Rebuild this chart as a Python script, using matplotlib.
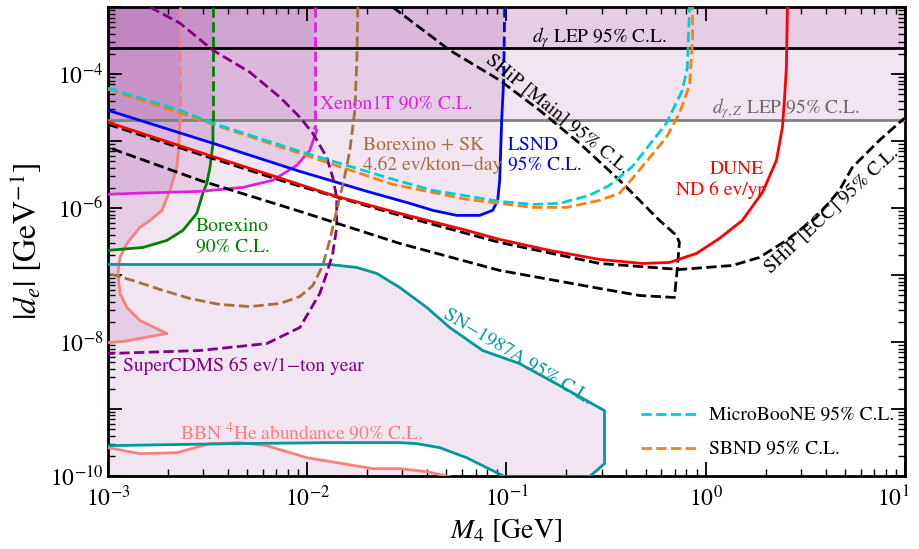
import matplotlib
matplotlib.use('Agg')
import matplotlib.pyplot as plt
import matplotlib.transforms as mtransforms
import numpy as np

plt.rcParams['font.family'] = ['STIXGeneral', 'DejaVu Serif']
plt.rcParams['mathtext.fontset'] = 'stix'

# curves, stored as log10(M4 / GeV) and log10(|d_e| GeV)
bbn_top_lm = [-2.639, -2.639, -2.644, -2.654, -2.689, -2.729, -2.789, -2.840, -2.905,
              -2.940, -2.950, -2.940, -2.905, -2.840, -2.704, -2.925, -3.0]
bbn_top_ld = [-3.0, -4.689, -5.033, -5.392, -5.735, -6.034, -6.184, -6.289, -6.528,
              -6.737, -6.976, -7.275, -7.484, -7.679, -7.873, -7.993, -8.008]
bbn_low_lm = [-3.0, -2.840, -2.654, -2.488, -2.338, -2.203, -2.002, -1.821, -1.671,
              -1.536, -1.400, -1.285]
bbn_low_ld = [-9.577, -9.667, -9.652, -9.517, -9.502, -9.547, -9.727, -9.816, -9.891,
              -9.891, -9.936, -10.01]

borex_lm = [-2.473, -2.473, -2.473, -2.488, -2.504, -2.524, -2.554, -2.624, -2.704, -2.824, -3.0]
borex_ld = [-3.0, -4.689, -5.033, -5.392, -5.631, -5.780, -6.079, -6.333, -6.483, -6.588, -6.632]

xenon_lm = [-1.962, -1.962, -1.952, -1.987, -2.052, -2.173, -2.323, -2.539, -2.875, -3.0]
xenon_ld = [-3.0, -4.809, -4.839, -5.138, -5.362, -5.586, -5.691, -5.751, -5.780, -5.795]

lsnd_lm = [-1.009, -1.014, -1.024, -1.034, -1.044, -1.069, -1.134, -1.250, -1.370, -1.485,
           -1.701, -2.037, -2.473, -3.0]
lsnd_ld = [-3.0, -4.091, -4.689, -5.586, -5.885, -6.034, -6.109, -6.109, -6.034, -5.930,
           -5.750, -5.452, -5.033, -4.540]

sn_lm = [-3.0, -2.288, -1.887, -1.751, -1.651, -1.536, -1.400, -1.285, -1.119, -0.934,
         -0.733, -0.508, -0.508, -0.583, -1.009, -1.069, -1.200, -1.335, -1.450, -1.536,
         -1.872, -2.373, -3.0]
sn_ld = [-6.842, -6.842, -6.842, -6.887, -6.976, -7.185, -7.484, -7.783, -8.127, -8.322,
         -8.650, -9.024, -9.816, -10.01, -10.01, -9.921, -9.727, -9.577, -9.517, -9.502,
         -9.502, -9.517, -9.547]

cdms_lm = [-2.789, -2.639, -2.473, -2.288, -2.137, -2.037, -1.972, -1.902, -1.872, -1.852,
           -1.852, -1.872, -1.902, -1.937, -2.037, -2.203, -2.539, -3.0]
cdms_ld = [-3.0, -3.239, -3.643, -3.972, -4.345, -4.644, -4.883, -5.242, -5.541, -5.840,
           -6.289, -6.677, -6.976, -7.275, -7.783, -8.023, -8.127, -8.172]

bsk_lm = [-1.746, -1.751, -1.761, -1.786, -1.816, -1.852, -1.887, -1.922, -1.972, -2.037,
          -2.137, -2.288, -2.438, -2.589, -2.739, -2.875, -3.0]
bsk_ld = [-3.0, -3.792, -4.540, -5.138, -5.586, -6.034, -6.483, -6.857, -7.156, -7.320,
          -7.425, -7.470, -7.440, -7.350, -7.215, -7.081, -6.976]

uboone_lm = [-3.0, -2.639, -2.473, -2.037, -1.586, -1.370, -1.034, -0.869, -0.733, -0.583,
             -0.483, -0.367, -0.197, -0.117, -0.092, -0.081]
uboone_ld = [-4.211, -4.540, -4.734, -5.153, -5.556, -5.736, -5.900, -5.945, -5.930, -5.810,
             -5.661, -5.377, -4.734, -4.241, -3.897, -3.0]

sbnd_lm = [-3.0, -2.473, -2.037, -1.571, -1.200, -0.869, -0.698, -0.533, -0.433, -0.367,
           -0.197, -0.132, -0.081, -0.066, -0.066]
sbnd_ld = [-4.226, -4.749, -5.183, -5.646, -5.870, -5.990, -5.990, -5.885, -5.780, -5.556,
           -4.943, -4.585, -4.166, -3.493, -3.0]

dune_lm = [-3.0, -2.539, -2.102, -1.872, -1.536, -1.200, -1.034, -0.783, -0.533, -0.317,
           -0.182, -0.046, 0.069, 0.184, 0.285, 0.355, 0.385, 0.395, 0.405, 0.410]
dune_ld = [-4.719, -5.168, -5.586, -5.810, -6.079, -6.333, -6.468, -6.632, -6.767, -6.827,
           -6.812, -6.677, -6.453, -6.184, -5.765, -5.287, -4.794, -4.390, -3.897, -3.0]

ship_main_lm = [-1.571, -1.285, -1.034, -0.834, -0.633, -0.432, -0.332, -0.232, -0.147,
                -0.132, -0.142, -0.157, -0.332, -0.533, -1.034, -1.536, -2.037, -2.539, -3.0]
ship_main_ld = [-3.0, -3.643, -4.091, -4.540, -5.033, -5.586, -5.885, -6.184, -6.408,
                -6.513, -6.887, -7.335, -7.305, -7.200, -6.931, -6.528, -6.049, -5.586, -5.093]

ship_ecc_lm = [-3.0, -2.539, -2.102, -1.536, -1.034, -0.533, -0.132, 0.134, 0.270, 0.405,
               0.556, 0.671, 0.736, 0.872, 0.997]
ship_ecc_ld = [-4.749, -5.198, -5.616, -6.109, -6.513, -6.827, -6.917, -6.857, -6.737,
               -6.483, -6.139, -5.736, -5.392, -4.988, -4.659]

d_gamma_lep = 2.42e-4
d_gammaz_lep = 2.05e-5

yticks = [1e-10, 1e-9, 1e-8, 1e-7, 1e-6, 1e-5, 1e-4, 1e-3]
ytick_labels = ['$10^{-10}$', '', '$10^{-8}$', '', '$10^{-6}$', '', '$10^{-4}$', '']
xticks = [1e-3, 1e-2, 1e-1, 1e0, 1e1]
xtick_labels = ['$10^{-3}$', '$10^{-2}$', '$10^{-1}$', '$10^{0}$', '$10^{1}$']

XMIN, XMAX, YMIN, YMAX = 1e-3, 10.0, 1e-10, 1e-3


def xy(lm, ld):
    return 10 ** np.array(lm), 10 ** np.array(ld)


fig = plt.figure(figsize=(9.19, 5.49), dpi=100)
ax = fig.add_axes([0.1175, 0.133, 0.8672, 0.854])
ax.set_xscale('log')
ax.set_yscale('log')

shade = dict(color='purple', alpha=0.1, lw=0, zorder=1)

# shaded (existing) limits
ax.axhspan(d_gamma_lep, YMAX, **shade)
ax.axhspan(d_gammaz_lep, YMAX, **shade)
for lm, ld in [(bbn_top_lm, bbn_top_ld), (borex_lm, borex_ld), (xenon_lm, xenon_ld), (lsnd_lm, lsnd_ld)]:
    x, y = xy(lm, ld)
    ax.fill(np.append(x, XMIN), np.append(y, YMAX), **shade)
x, y = xy(bbn_low_lm, bbn_low_ld)
ax.fill(np.append(x, XMIN), np.append(y, YMIN), **shade)
x, y = xy(sn_lm, sn_ld)
ax.fill(x, y, **shade)

lw = 2.0

# LEP lines
ax.axhline(d_gamma_lep, color='black', lw=lw, zorder=3)
ax.axhline(d_gammaz_lep, color='gray', lw=lw, zorder=3)


def solid_with_dashed_top(lm, ld, color):
    x, y = xy(lm, ld)
    ax.plot(x[:2], y[:2], color=color, lw=lw, ls='--', zorder=3)
    ax.plot(x[1:], y[1:], color=color, lw=lw, zorder=3)


solid_with_dashed_top(bbn_top_lm, bbn_top_ld, '#f88080')
solid_with_dashed_top(borex_lm, borex_ld, 'green')
solid_with_dashed_top(xenon_lm, xenon_ld, '#e020e0')
solid_with_dashed_top(lsnd_lm, lsnd_ld, 'blue')

ax.plot(*xy(bbn_low_lm, bbn_low_ld), color='#f88080', lw=lw, zorder=3)
ax.plot(*xy(sn_lm, sn_ld), color='#009999', lw=lw, zorder=3)

# projections (dashed)
ax.plot(*xy(cdms_lm, cdms_ld), color='purple', lw=lw, ls='--', zorder=3)
ax.plot(*xy(bsk_lm, bsk_ld), color='#a57040', lw=lw, ls='--', zorder=3)
ax.plot(*xy(ship_ecc_lm, ship_ecc_ld), color='black', lw=lw, ls='--', zorder=3)
ax.plot(*xy(ship_main_lm, ship_main_ld), color='black', lw=lw, ls='--', zorder=3)
ax.plot(*xy(dune_lm, dune_ld), color='red', lw=lw, zorder=4)
ax.plot(*xy(uboone_lm, uboone_ld), color='darkturquoise', lw=lw, ls='--', zorder=4,
        label='MicroBooNE 95% C.L.')
ax.plot(*xy(sbnd_lm, sbnd_ld), color='#ff7f0e', lw=lw, ls='--', zorder=3,
        label='SBND 95% C.L.')

fs = 14
ax.text(0.135, 3.56e-4, r'$d_\gamma$ LEP 95% C.L.', fontsize=fs, ha='left', va='center')
ax.text(1.07, 3.09e-5, r'$d_{\gamma,Z}$ LEP 95% C.L.', fontsize=fs, color='dimgray',
        ha='left', va='center')
ax.text(1.156e-2, 3.55e-5, 'Xenon1T 90% C.L.', fontsize=fs, color='#e020e0', va='center')
ax.text(1.9e-2, 6.1e-6, 'Borexino + SK\n4.62 ev/kton\u2212day', fontsize=fs, color='#a57040',
        va='center')
ax.text(0.1014, 6.1e-6, 'LSND\n95% C.L.', fontsize=fs, color='blue', va='center')
ax.text(1.95, 2.6e-6, 'DUNE\nND 6 ev/yr', fontsize=fs, color='red', ha='right', va='center',
        multialignment='right')
ax.text(2.76e-3, 3.78e-7, 'Borexino\n90% C.L.', fontsize=fs, color='green', va='center')
ax.text(1.19e-3, 4.45e-9, 'SuperCDMS 65 ev/1\u2212ton year', fontsize=fs, color='purple',
        va='center')
ax.text(2.3e-3, 4.4e-10, 'BBN $^4$He abundance 90% C.L.', fontsize=fs, color='#f88080',
        va='center')
ax.text(0.1137, 6.07e-9, 'SN\u22121987A 95% C.L.', fontsize=fs, color='#009999', rotation=-31,
        ha='center', va='center', rotation_mode='anchor')
ax.text(0.18, 2.5e-5, 'SHiP [Main] 95% C.L.', fontsize=fs, rotation=-39,
        ha='center', va='center', rotation_mode='anchor')
ax.text(4.3, 9.0e-7, 'SHiP [ECC] 95% C.L.', fontsize=fs, rotation=43,
        ha='center', va='center', rotation_mode='anchor')

ax.legend(loc='lower right', bbox_to_anchor=(1.009, 0.0), frameon=False, fontsize=fs,
          handlelength=2.9, labelspacing=0.85, handletextpad=0.6)

ax.set_xlim(XMIN, XMAX)
ax.set_ylim(YMIN, YMAX)
ax.set_xticks(xticks, xtick_labels)
ax.set_yticks(yticks, ytick_labels)
ax.tick_params(which='both', direction='in', top=True, right=True, labelsize=17)
ax.tick_params(which='major', length=10, width=1.3)
ax.tick_params(axis='x', which='major', pad=7)
ax.tick_params(which='minor', length=5, width=1.0)
ax.yaxis.set_minor_locator(matplotlib.ticker.LogLocator(base=10, subs=np.arange(2, 10), numticks=20))
ax.yaxis.set_minor_formatter(matplotlib.ticker.NullFormatter())
for s in ax.spines.values():
    s.set_linewidth(2)

# last x label sits a little left so it stays inside the figure
last = ax.get_xticklabels()[-1]
last.set_transform(last.get_transform() + mtransforms.ScaledTranslation(-0.12, 0, fig.dpi_scale_trans))

ax.set_xlabel(r'$M_4$ [GeV]', fontsize=20)
ax.set_ylabel(r'$|d_e|$ [GeV$^{-1}$]', fontsize=23)

fig.savefig('out.png', dpi=100)
